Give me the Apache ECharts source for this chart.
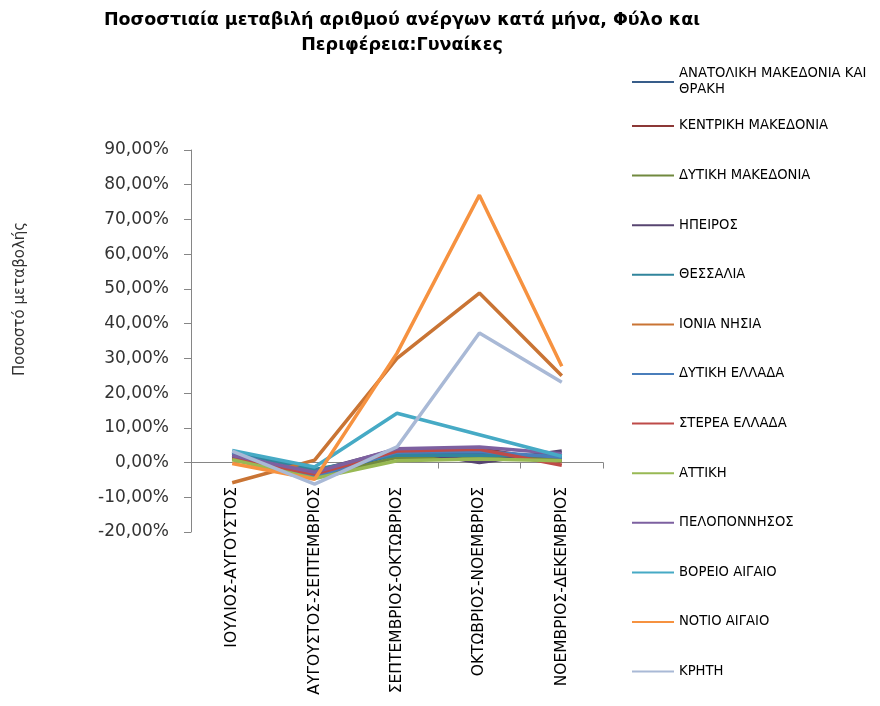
<!DOCTYPE html>
<html>
<head>
<meta charset="utf-8">
<script src="https://cdn.jsdelivr.net/npm/echarts@6/dist/echarts.min.js"></script>
<style>html,body{margin:0;padding:0;background:#fff}#c{width:880px;height:706px}</style>
</head>
<body>
<div id="c"></div>
<script>
const titleText = 'Ποσοστιαία μεταβιλή αριθμού ανέργων κατά μήνα, Φύλο και\nΠεριφέρεια:Γυναίκες';
const yAxisName = 'Ποσοστό μεταβολής';
const categories = ['ΙΟΥΛΙΟΣ-ΑΥΓΟΥΣΤΟΣ','ΑΥΓΟΥΣΤΟΣ-ΣΕΠΤΕΜΒΡΙΟΣ','ΣΕΠΤΕΜΒΡΙΟΣ-ΟΚΤΩΒΡΙΟΣ','ΟΚΤΩΒΡΙΟΣ-ΝΟΕΜΒΡΙΟΣ','ΝΟΕΜΒΡΙΟΣ-ΔΕΚΕΜΒΡΙΟΣ'];
const seriesNames = ['ΑΝΑΤΟΛΙΚΗ ΜΑΚΕΔΟΝΙΑ ΚΑΙ ΘΡΑΚΗ','ΚΕΝΤΡΙΚΗ ΜΑΚΕΔΟΝΙΑ','ΔΥΤΙΚΗ ΜΑΚΕΔΟΝΙΑ','ΗΠΕΙΡΟΣ','ΘΕΣΣΑΛΙΑ','ΙΟΝΙΑ ΝΗΣΙΑ','ΔΥΤΙΚΗ ΕΛΛΑΔΑ','ΣΤΕΡΕΑ ΕΛΛΑΔΑ','ΑΤΤΙΚΗ','ΠΕΛΟΠΟΝΝΗΣΟΣ','ΒΟΡΕΙΟ ΑΙΓΑΙΟ','ΝΟΤΙΟ ΑΙΓΑΙΟ','ΚΡΗΤΗ'];
// values in percent
const anMakedoniaThraki = [2.2, -3.8, 2.5, 2.5, 1.2];
const kentrikiMakedonia = [1.5, -3.0, 3.5, 4.0, 0.2];
const dytikiMakedonia   = [1.2, -4.3, 1.5, 1.5, 0.8];
const ipeiros           = [1.8, -2.5, 3.8, 0.0, 3.3];
const thessalia         = [3.0, -2.0, 2.2, 2.0, 2.0];
const ioniaNisia        = [-5.8, 0.7, 30.0, 48.8, 25.0];
const dytikiEllada      = [2.8, -4.0, 3.0, 3.2, 1.5];
const stereaEllada      = [1.0, -3.3, 3.3, 3.8, -0.8];
const attiki            = [0.8, -4.6, 0.5, 1.0, 0.5];
const peloponnisos      = [2.0, -2.8, 4.0, 4.5, 2.5];
const voreioAigaio      = [3.5, -1.3, 14.2, 8.0, 1.8];
const notioAigaio       = [-0.3, -4.8, 31.5, 77.0, 27.7];
const kriti             = [3.3, -6.2, 4.5, 37.3, 23.1];
const yMin = -20, yMax = 90, yStep = 10;

const seriesValues = [anMakedoniaThraki,kentrikiMakedonia,dytikiMakedonia,ipeiros,thessalia,ioniaNisia,dytikiEllada,stereaEllada,attiki,peloponnisos,voreioAigaio,notioAigaio,kriti];
const colors = ['#385D8A','#8C3836','#71893F','#574570','#31859C','#C97434','#4A7EBB','#BE4B48','#98B954','#7D60A0','#46AAC5','#F69240','#A9B9D6'];

const FONT = 'DejaVu Sans';
const chart = echarts.init(document.getElementById('c'));
chart.setOption({
  animation: false,
  color: colors,
  title: {
    text: titleText, left: 397, textAlign: 'center', top: 3,
    textStyle: {fontFamily: FONT, fontSize: 17.5, fontWeight: 'bold', color: '#000', lineHeight: 25}
  },
  legend: [
    {
      data: [seriesNames[0]], orient: 'vertical', left: 627, top: 61,
      icon: 'rect', itemWidth: 42, itemHeight: 2, itemGap: 0,
      formatter: n => n.replace(' ΚΑΙ ', ' ΚΑΙ\n'),
      textStyle: {fontFamily: FONT, fontSize: 13.2, color: '#000', lineHeight: 16}
    },
    {
      data: seriesNames.slice(1), orient: 'vertical', left: 627, top: 114,
      icon: 'rect', itemWidth: 42, itemHeight: 2, itemGap: 35.6,
      textStyle: {fontFamily: FONT, fontSize: 13.2, color: '#000', lineHeight: 14}
    }
  ],
  grid: {left: 191, right: 277, top: 150, bottom: 174, containLabel: false, outerBoundsMode: 'none'},
  xAxis: {
    type: 'category', data: categories, boundaryGap: true,
    axisLine: {onZero: true, lineStyle: {color: '#868686', width: 1}},
    axisTick: {show: true, interval: 0, length: 6, lineStyle: {color: '#868686'}},
    axisLabel: {rotate: 90, interval: 0, margin: -45, fontFamily: FONT, fontSize: 15.5, color: '#000'},
    splitLine: {show: false}
  },
  yAxis: {
    type: 'value', min: yMin, max: yMax, interval: yStep,
    name: yAxisName, nameLocation: 'middle', nameRotate: 90, nameGap: 163,
    nameTextStyle: {fontFamily: FONT, fontSize: 15, color: '#333', padding: [0, 0, 0, 84]},
    axisLine: {show: true, lineStyle: {color: '#868686', width: 1}},
    axisTick: {show: true, length: 7, lineStyle: {color: '#868686'}},
    axisLabel: {margin: 22, fontFamily: FONT, fontSize: 17, color: '#333',
      formatter: v => v.toFixed(2).replace('.', ',') + '%'},
    splitLine: {show: false}
  },
  series: seriesNames.map((n, i) => ({
    name: n, type: 'line', data: seriesValues[i], symbol: 'none',
    lineStyle: {width: 3.5, color: colors[i]}, itemStyle: {color: colors[i]}
  }))
});
</script>
</body>
</html>
